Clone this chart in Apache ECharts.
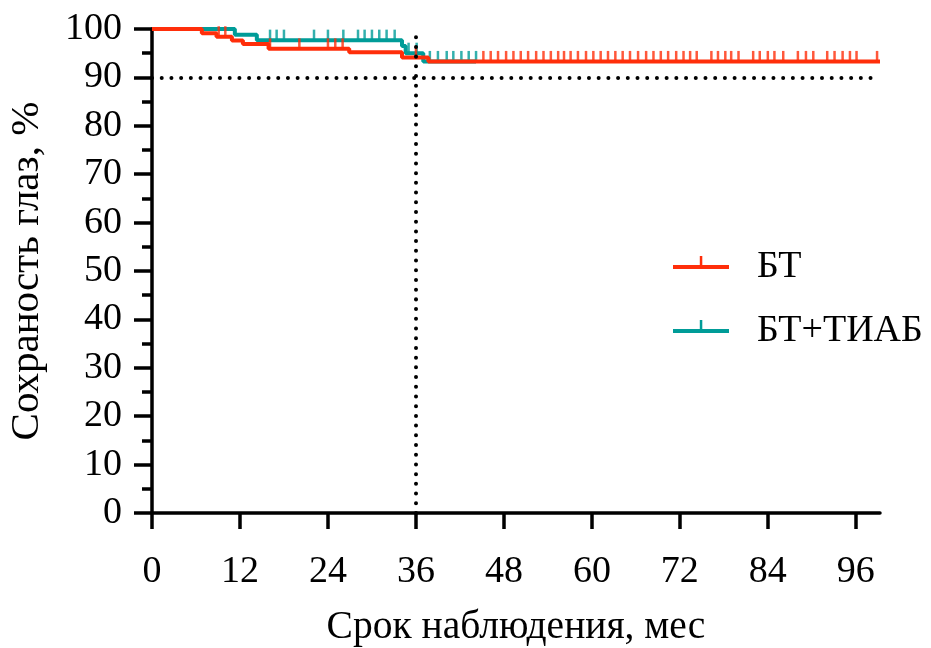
<!DOCTYPE html>
<html>
<head>
<meta charset="utf-8">
<script src="https://cdn.jsdelivr.net/npm/echarts@6/dist/echarts.min.js"></script>
<style>
  html, body { margin: 0; padding: 0; background: #fff; }
  #chart { width: 931px; height: 648px; }
</style>
</head>
<body>
<div id="chart"></div>
<script>
// Kaplan–Meier step data (months, eye preservation %)
const btTimes = [0, 6.8, 8.8, 10.9, 12.4, 15.9, 26.9, 34.1, 37.7, 99.3];
const btSurv  = [100, 99.1, 98.4, 97.6, 96.9, 95.9, 95.2, 94.1, 93.3, 93.3];
const btCensored = [9.1, 10.0, 16.1, 20.1, 24.0, 25.0, 26.0, 36.0,
  45.2, 46.2, 47.2, 48.3, 49.3, 50.3, 51.3, 52.4, 53.4, 54.4, 55.4, 56.2,
  57.1, 58.1, 59.2, 60.2, 61.2, 62.2, 63.2, 64.2, 65.2, 66.3, 67.4, 68.4,
  69.4, 70.4, 71.5, 72.5, 73.4, 74.3, 76.3, 77.2, 78.2, 79.0, 80.0, 82.0,
  82.9, 84.0, 84.9, 86.1, 88.1, 89.2, 90.2, 92.1, 93.1, 94.2, 95.2, 96.1, 98.9];

const tiabTimes = [0, 11.3, 14.3, 34.1, 34.6, 37.0, 44.2];
const tiabSurv  = [100, 98.8, 97.7, 96.5, 95.0, 93.3, 93.3];
const tiabCensored = [16.1, 17.0, 18.0, 22.1, 24.0, 26.1, 28.1, 29.0, 30.0,
  31.0, 32.0, 33.1, 35.0, 36.1, 37.9, 39.0, 40.2, 41.1, 42.2, 43.2, 44.2];

const xTicks = [0, 12, 24, 36, 48, 60, 72, 84, 96];
const xMax = 99.3;
const refSurvival = 90;
const refMonth = 36;

const seriesNames = ['БТ', 'БТ+ТИАБ'];
const colors = ['#FF2E0A', '#009C98'];

function stepPoints(times, surv) {
  return times.map((t, i) => [t, surv[i]]);
}
function valueAt(times, surv, t) {
  let v = surv[0];
  for (let i = 0; i < times.length; i++) {
    if (times[i] <= t) v = surv[i];
  }
  return v;
}
function censorPoints(times, surv, cens) {
  return cens.map(t => [t, valueAt(times, surv, t)]);
}

const font = 'Liberation Serif';
// legend glyph: horizontal bar with an upward censor tick, centred on the bar
const legendIcon = 'path://M0,9 L56,9 L56,13 L0,13 Z M26.8,0 L29.3,0 L29.3,9 L26.8,9 Z M0,22 L0,22 M79,22 L79,22';

const chart = echarts.init(document.getElementById('chart'), null, { renderer: 'canvas' });

const censorStyle = {
  type: 'scatter',
  symbol: 'rect',
  symbolSize: [2.5, 11],
  symbolOffset: [0, -5],
  silent: true
};

chart.setOption({
  animation: false,
  backgroundColor: '#fff',
  grid: { left: 152, right: 51, top: 29, bottom: 135, containLabel: false, outerBoundsMode: 'none' },
  legend: {
    orient: 'vertical',
    left: 668,
    top: 242,
    itemWidth: 79,
    itemHeight: 22,
    itemGap: 24,
    data: seriesNames.map(n => ({ name: n, icon: legendIcon })),
    textStyle: { fontFamily: font, fontSize: 38, color: '#000', lineHeight: 40 },
    selectedMode: false
  },
  xAxis: {
    type: 'value',
    min: 0,
    max: xMax,
    interval: 12,
    name: 'Срок наблюдения, мес',
    nameLocation: 'middle',
    nameGap: 95,
    nameTextStyle: { fontFamily: font, fontSize: 39.5, color: '#000' },
    axisLine: { show: true, onZero: false, lineStyle: { color: '#000', width: 3.5 } },
    axisTick: { show: true, length: 16, customValues: xTicks, lineStyle: { color: '#000', width: 3.5 } },
    axisLabel: { customValues: xTicks, margin: 40, fontFamily: font, fontSize: 38, color: '#000' },
    splitLine: { show: false }
  },
  yAxis: {
    type: 'value',
    min: 0,
    max: 100,
    interval: 10,
    name: 'Сохраность глаз, %',
    nameLocation: 'middle',
    nameGap: 104,
    nameRotate: 90,
    nameTextStyle: { fontFamily: font, fontSize: 41, color: '#000' },
    axisLine: { show: true, lineStyle: { color: '#000', width: 3.5 } },
    axisTick: { show: true, length: 18, lineStyle: { color: '#000', width: 3.5 } },
    minorTick: { show: true, splitNumber: 2, length: 10, lineStyle: { color: '#000', width: 3.5 } },
    axisLabel: { margin: 30, fontFamily: font, fontSize: 38, color: '#000' },
    splitLine: { show: false }
  },
  series: [
    {
      name: seriesNames[1],
      type: 'line',
      step: 'end',
      data: stepPoints(tiabTimes, tiabSurv),
      showSymbol: false,
      lineStyle: { color: colors[1], width: 4 },
      itemStyle: { color: colors[1] },
      z: 2
    },
    Object.assign({}, censorStyle, {
      name: seriesNames[1] + ' censored',
      data: censorPoints(tiabTimes, tiabSurv, tiabCensored),
      itemStyle: { color: colors[1] },
      z: 2
    }),
    {
      name: seriesNames[0],
      type: 'line',
      step: 'end',
      data: stepPoints(btTimes, btSurv),
      showSymbol: false,
      lineStyle: { color: colors[0], width: 4 },
      itemStyle: { color: colors[0] },
      z: 3
    },
    Object.assign({}, censorStyle, {
      name: seriesNames[0] + ' censored',
      data: censorPoints(btTimes, btSurv, btCensored),
      itemStyle: { color: colors[0] },
      z: 3
    }),
    {
      name: 'reference',
      type: 'line',
      data: [],
      z: 4,
      markLine: {
        silent: true,
        symbol: ['none', 'none'],
        label: { show: false },
        lineStyle: { color: '#000', width: 4, type: [0.01, 9.7], cap: 'round' },
        data: [
          [{ coord: [0, refSurvival] }, { coord: [98.3, refSurvival] }],
          [{ coord: [refMonth, 0] }, { coord: [refMonth, 100] }]
        ]
      }
    }
  ]
});
</script>
</body>
</html>
